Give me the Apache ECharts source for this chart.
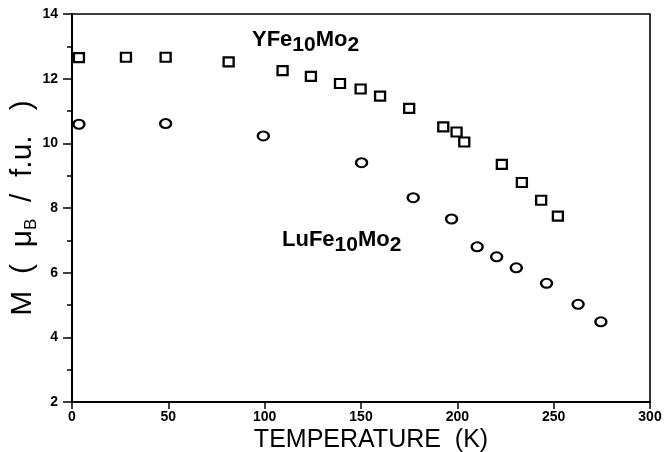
<!DOCTYPE html>
<html>
<head>
<meta charset="utf-8">
<script src="https://cdn.jsdelivr.net/npm/echarts@6/dist/echarts.min.js"></script>
<style>
html,body{margin:0;padding:0;background:#fff;}
#c{width:664px;height:452px;}
</style>
</head>
<body>
<div id="c"></div>
<script>
// YFe10Mo2 (squares)
const tempY = [3.6, 28.0, 48.6, 81.3, 109.3, 124.0, 139.1, 149.8, 159.9, 175.0, 192.7, 199.6, 203.6, 223.1, 233.5, 243.5, 252.2];
const magY  = [12.65, 12.66, 12.66, 12.52, 12.25, 12.07, 11.85, 11.68, 11.46, 11.08, 10.51, 10.35, 10.04, 9.35, 8.79, 8.24, 7.75];
// LuFe10Mo2 (circles)
const tempLu = [3.6, 48.6, 99.3, 150.3, 177.1, 197.0, 210.3, 220.4, 230.6, 246.3, 262.7, 274.5];
const magLu  = [10.59, 10.61, 10.23, 9.40, 8.32, 7.66, 6.80, 6.49, 6.15, 5.67, 5.02, 4.48];
// axes
const xTicks = [0, 50, 100, 150, 200, 250, 300];
const yTicks = [2, 4, 6, 8, 10, 12, 14];
const xTitle = 'TEMPERATURE  (K)';
const seriesNames = ['YFe10Mo2', 'LuFe10Mo2'];

const FONT = '"Liberation Sans", Arial, sans-serif';
const chart = echarts.init(document.getElementById('c'), null, {renderer: 'canvas'});
const pair = (xs, ys) => xs.map((x, i) => [x, ys[i]]);
const labelRich = {
  n: {fontFamily: FONT, fontSize: 22, fontWeight: 'bold', color: '#000', lineHeight: 22, verticalAlign: 'top'},
  s: {fontFamily: FONT, fontSize: 21, fontWeight: 'bold', color: '#000', lineHeight: 21, padding: [6, 0, 0, 0], verticalAlign: 'top'}
};

chart.setOption({
  animation: false,
  backgroundColor: '#fff',
  grid: {left: 72, right: 14, top: 14, bottom: 50, containLabel: false, outerBoundsMode: 'none',
         show: true, borderColor: '#000', borderWidth: 1.6, backgroundColor: 'transparent'},
  xAxis: {
    type: 'value', min: xTicks[0], max: xTicks[xTicks.length - 1], interval: 50,
    name: xTitle, nameLocation: 'middle', nameGap: 26, nameMoveOverlap: false,
    nameTextStyle: {fontFamily: FONT, fontSize: 25, color: '#000', padding: [0, 0, 0, 20]},
    axisLine: {show: true, lineStyle: {color: '#000', width: 2}},
    axisTick: {show: true, length: 7, lineStyle: {color: '#000', width: 1.5}},
    axisLabel: {fontFamily: FONT, fontSize: 14, fontWeight: 'bold', color: '#000', margin: 8},
    splitLine: {show: false}
  },
  yAxis: {
    type: 'value', min: yTicks[0], max: yTicks[yTicks.length - 1], interval: 2,
    name: '{a|M  (  μ}{b|B}{a|  /  f.u.   )}', nameLocation: 'middle', nameGap: 30, nameRotate: 90,
    nameMoveOverlap: false,
    nameTextStyle: {
      rich: {
        a: {fontFamily: FONT, fontSize: 30, color: '#000', lineHeight: 34, verticalAlign: 'top'},
        b: {fontFamily: FONT, fontSize: 17, color: '#000', lineHeight: 17, padding: [15, 0, 0, 0], verticalAlign: 'top'}
      }
    },
    axisLine: {show: true, lineStyle: {color: '#000', width: 2}},
    axisTick: {show: true, length: 9, lineStyle: {color: '#000', width: 1.5}},
    minorTick: {show: true, splitNumber: 2, length: 5, lineStyle: {color: '#000', width: 1.5}},
    axisLabel: {fontFamily: FONT, fontSize: 14, fontWeight: 'bold', color: '#000', margin: 14},
    splitLine: {show: false}
  },
  series: [
    {
      name: seriesNames[0], type: 'scatter', data: pair(tempY, magY),
      symbol: 'rect', symbolSize: [10, 9],
      itemStyle: {color: '#fff', borderColor: '#000', borderWidth: 2.2, opacity: 1}
    },
    {
      name: seriesNames[1], type: 'scatter', data: pair(tempLu, magLu),
      symbol: 'circle', symbolSize: [11, 9],
      itemStyle: {color: '#fff', borderColor: '#000', borderWidth: 2.2, opacity: 1}
    }
  ],
  graphic: [
    {type: 'text', left: 252, top: 29, style: {text: '{n|YFe}{s|10}{n|Mo}{s|2}', rich: labelRich}},
    {type: 'text', left: 282, top: 229, style: {text: '{n|LuFe}{s|10}{n|Mo}{s|2}', rich: labelRich}}
  ]
});
</script>
</body>
</html>
